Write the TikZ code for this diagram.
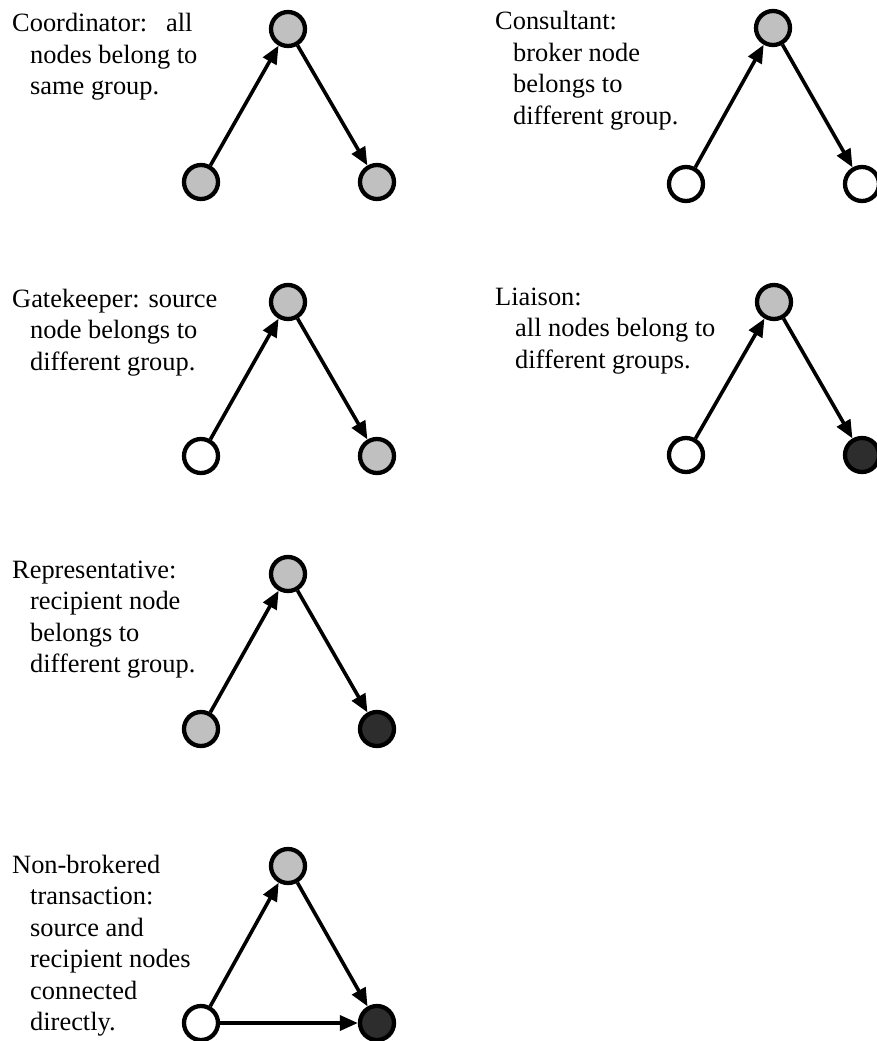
\documentclass[tikz,border=0pt]{standalone}
\usepackage{fontspec}
\setmainfont{Liberation Serif}
\usetikzlibrary{arrows.meta}
\definecolor{nodegray}{HTML}{C0C0C0}
\definecolor{nodedark}{HTML}{2D2D2D}
\newcommand{\ind}{\hspace*{18pt}}
\newcommand{\lines}[1]{\begin{tabular}[t]{@{}l@{}}#1\end{tabular}}
\begin{document}
\begin{tikzpicture}[x=1pt,y=-1pt,
  vert/.style={circle,draw=black,line width=4.3pt,minimum size=34pt,inner sep=0pt},
  gray/.style={vert,fill=nodegray},
  white/.style={vert,fill=white},
  dark/.style={vert,fill=nodedark},
  conn/.style={line width=3.6pt,-{Triangle[length=18pt,width=15pt]}},
  lbl/.style={anchor=base west,inner sep=0pt,font=\fontsize{26.4}{31.5}\selectfont}
]
\useasboundingbox (0,0) rectangle (877,1041);

% Panel 1: Coordinator
\node[lbl] (t1) at (12,32) {\lines{Coordinator:\hspace{19pt}all\\\ind nodes belong to\\\ind same group.}};
\node[gray] (a1) at (288,29) {};
\node[gray] (b1) at (201,182) {};
\node[gray] (c1) at (377,182) {};
\draw[conn] (b1) -- (a1);
\draw[conn] (a1) -- (c1);

% Panel 2: Consultant
\node[lbl] (t2) at (495,30) {\lines{Consultant:\\\ind broker node\\\ind belongs to\\\ind different group.}};
\node[gray] (a2) at (773,28) {};
\node[white] (b2) at (686,184) {};
\node[white] (c2) at (862,184) {};
\draw[conn] (b2) -- (a2);
\draw[conn] (a2) -- (c2);

% Panel 3: Gatekeeper
\node[lbl] (t3) at (12,307) {\lines{Gatekeeper: source\\\ind node belongs to\\\ind different group.}};
\node[gray] (a3) at (288,302) {};
\node[white] (b3) at (201,456) {};
\node[gray] (c3) at (377,456) {};
\draw[conn] (b3) -- (a3);
\draw[conn] (a3) -- (c3);

% Panel 4: Liaison
\node[lbl] (t4) at (495,305) {\lines{Liaison:\\\hspace*{20pt}all nodes belong to\\\hspace*{20pt}different groups.}};
\node[gray] (a4) at (774,302) {};
\node[white] (b4) at (686,455) {};
\node[dark] (c4) at (862,455) {};
\draw[conn] (b4) -- (a4);
\draw[conn] (a4) -- (c4);

% Panel 5: Representative
\node[lbl] (t5) at (12,578) {\lines{Representative:\\\ind recipient node\\\ind belongs to\\\ind different group.}};
\node[gray] (a5) at (288,574) {};
\node[gray] (b5) at (201,729) {};
\node[dark] (c5) at (377,729) {};
\draw[conn] (b5) -- (a5);
\draw[conn] (a5) -- (c5);

% Panel 6: Non-brokered transaction
\node[lbl] (t6) at (12,873) {\lines{Non-brokered\\\ind transaction:\\\ind source and\\\ind recipient nodes\\\ind connected\\\ind directly.}};
\node[gray] (a6) at (288,866) {};
\node[white] (b6) at (201,1023) {};
\node[dark] (c6) at (377,1023) {};
\draw[conn] (b6) -- (a6);
\draw[conn] (a6) -- (c6);
\draw[conn] (b6) -- (c6);
\end{tikzpicture}
\end{document}
